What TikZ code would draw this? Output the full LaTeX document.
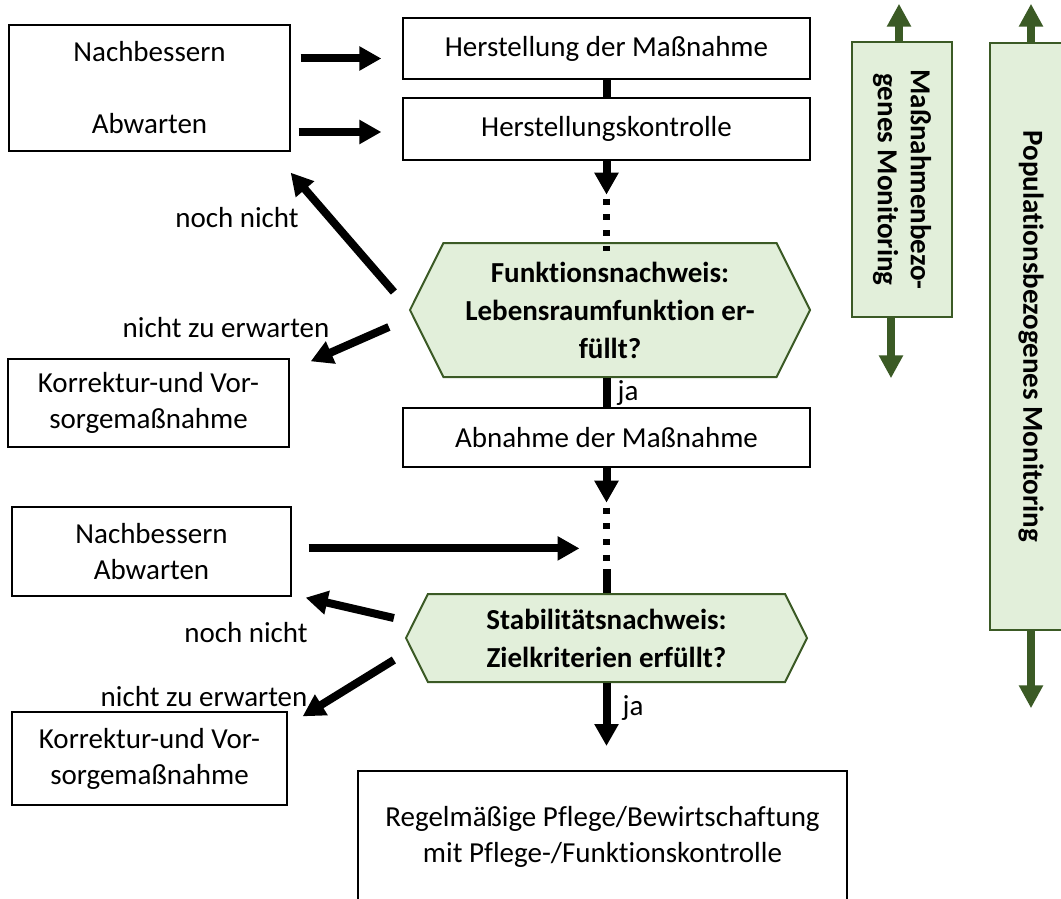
\documentclass[tikz,border=0pt]{standalone}
\usepackage{fontspec}
\setmainfont{Carlito}[Ligatures=NoCommon]
\usepackage{xcolor}
\usepackage{tikz}
\usetikzlibrary{positioning, arrows.meta, shapes.symbols, calc}
\definecolor{checkfill}{HTML}{E2EFDA}
\definecolor{checkline}{HTML}{3B5A25}

\begin{document}
\begin{tikzpicture}[x=1pt, y=-1pt, font=\fontsize{29}{36}\selectfont,
        box/.style={draw, line width=1.3pt, inner sep=0pt, align=center},
        check/.style={shape=signal, signal to=west and east, signal pointer angle=127, draw=checkline, fill=checkfill, line width=2pt, inner sep=0pt, align=center, font=\fontsize{29}{38}\selectfont\bfseries},
        band/.style={draw=checkline, fill=checkfill, line width=2.5pt, inner sep=0pt, rotate=-90, align=center, font=\fontsize{29}{33}\selectfont\bfseries},
        arr/.style={line width=8pt, -{Triangle[width=23pt, length=22pt]}},
        bar/.style={line width=8pt},
        dots/.style={line width=7.5pt, dash pattern=on 6pt off 9.7pt},
        garr/.style={checkline, line width=8pt, -{Triangle[width=23pt, length=23pt]}}]
        \clip (0,0) rectangle (1061,899);
        % main column
        \node[box, minimum width=407pt, minimum height=61pt] (hs) at (606.5,48.5) {Herstellung der Maßnahme};
        \node[box, minimum width=407pt, minimum height=62pt] (hk) at (606.5,129) {Herstellungskontrolle};
        \node[check, minimum width=400pt, minimum height=134pt] (fn) at (610,310) {Funktionsnachweis:\\Lebensraumfunktion er-\\füllt?};
        \node[box, minimum width=407pt, minimum height=59pt] (ab) at (606.5,437.5) {Abnahme der Maßnahme};
        \node[check, minimum width=401pt, minimum height=88pt] (sn) at (606.5,638) {Stabilitätsnachweis:\\Zielkriterien erfüllt?};
        \node[box, minimum width=489pt, minimum height=132pt] (rp) at (602.5,837) {Regelmäßige Pflege/Bewirtschaftung\\mit Pflege-/Funktionskontrolle};
        % left column
        \node[box, minimum width=281pt, minimum height=126pt] (nb1) at (149.5,88) {Nachbessern\\[36pt]Abwarten};
        \node[box, minimum width=281pt, minimum height=88pt] (kv1) at (148.5,403) {Korrektur-und Vor-\\sorgemaßnahme};
        \node[box, minimum width=279pt, minimum height=89pt] (nb2) at (151.5,551.5) {Nachbessern\\Abwarten};
        \node[box, minimum width=275pt, minimum height=93pt] (kv2) at (149.5,758.5) {Korrektur-und Vor-\\sorgemaßnahme};
        % monitoring
        \node[band, minimum width=275pt, minimum height=100pt] (mm) at (902,179.5) {Maßnahmenbezo-\\genes Monitoring};
        \node[band, minimum width=587pt, minimum height=82pt] (pm) at (1031,336.5) {Populationsbezogenes Monitoring};
        % labels
        \node (nn1) at (237,218) {noch nicht};
        \node (nz1) at (226,328) {nicht zu erwarten};
        \node (ja1) at (628,393) {ja};
        \node (nn2) at (246,633) {noch nicht};
        \node (nz2) at (204,697) {nicht zu erwarten};
        \node (ja2) at (633,708) {ja};
        % connectors
        \draw[arr] ($(nb1.east |- hs.west)+(10,10)$) -- ($(hs.west)+(-21,10)$);
        \draw[arr] ($(nb1.east |- hk.west)+(8,3)$) -- ($(hk.west)+(-21,3)$);
        \draw[bar] (hs.south) -- (hk.north);
        \coordinate (d1) at ($(hk.south)+(0,34)$);
        \draw[arr] (hk.south) -- (d1);
        \draw[dots] ($(d1)+(0,4)$) -- ($(hk.south |- fn.north)+(0,9)$);
        \draw[arr] ($(fn.west)+(-15,-18)$) -- ($(nb1.south east)+(0,21)$);
        \draw[arr] ($(fn.west)+(-20,17)$) -- ($(kv1.north east)+(21,3)$);
        \draw[bar] (ab.north |- fn.south) -- (ab.north);
        \coordinate (d2) at ($(ab.south)+(0,35)$);
        \coordinate (d3) at ($(sn.north)+(0,-25)$);
        \draw[arr] (ab.south) -- (d2);
        \draw[dots] ($(d2)+(0,5)$) -- (d3);
        \draw[bar] ($(d3)+(0,1)$) -- (sn.north);
        \coordinate (m2) at ($(d2)!0.7!(d3)$);
        \draw[arr] ($(nb2.east |- m2)+(17,0)$) -- ($(m2)+(-27,0)$);
        \draw[arr] ($(sn.west)+(-11,-20)$) -- ($(nb2.south east)+(14,1)$);
        \draw[arr] ($(sn.west)+(-11,22)$) -- ($(kv2.north east)+(15,5)$);
        \coordinate (d4) at ($(sn.south)+(0,63)$);
        \draw[arr] (sn.south) -- (d4);
        \draw[garr] ($(mm.west)+(-3,0)$) -- ($(mm.west)+(-3,-37)$);
        \draw[garr] ($(mm.east)+(-11,0)$) -- ($(mm.east)+(-11,60)$);
        \draw[garr] (pm.west) -- ($(pm.west)+(0,-38)$);
        \draw[garr] (pm.east) -- ($(pm.east)+(0,77)$);
\end{tikzpicture}
\end{document}
